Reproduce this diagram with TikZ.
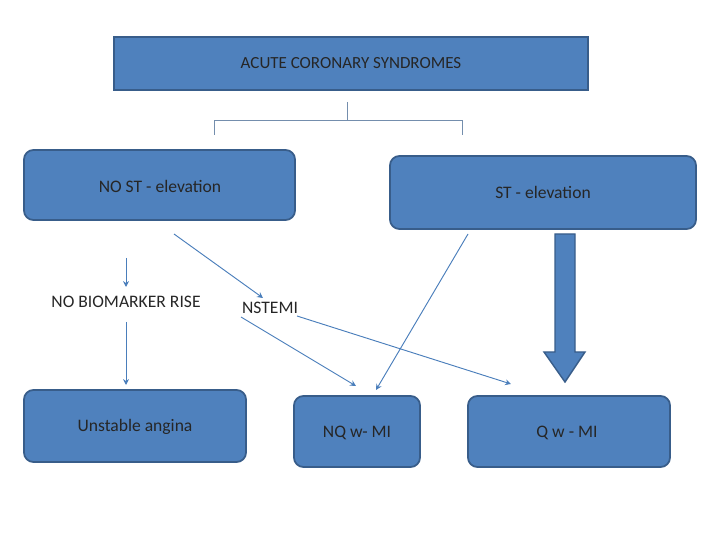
\documentclass[tikz,border=0pt]{standalone}
\usepackage{fontspec}
\setmainfont{Carlito}
\usetikzlibrary{arrows.meta}
\begin{document}
\begin{tikzpicture}[x=0.03cm,y=-0.03cm,
 box/.style={fill=boxblue,draw=boxedge,line width=1.5pt},
 rbox/.style={box,rounded corners=8pt},
 lbl/.style={font=\fontsize{15}{17}\selectfont,text=black!85},
 arr/.style={draw=arrblue,line width=0.8pt,-{Stealth[length=5pt,width=5pt]}},
 thin/.style={draw=boxedge!70,line width=0.6pt}]
\definecolor{boxblue}{HTML}{4F81BD}
\definecolor{boxedge}{HTML}{385D8A}
\definecolor{arrblue}{HTML}{4A7EBB}
\useasboundingbox (0,0) rectangle (720,540);
\draw[box] (114,37) rectangle (588,90);
\node[lbl,font=\fontsize{14.5}{17}\selectfont] (acs) at (351,63) {ACUTE CORONARY SYNDROMES};
\draw[thin] (347,102) -- (347,120);
\draw[thin] (214,135) -- (214,120) -- (462,120) -- (462,135);
\draw[rbox] (24,150) rectangle (295,220);
\node[lbl] (nost) at (160,186) {NO ST - elevation};
\draw[rbox] (390,156) rectangle (696,229);
\node[lbl] (st) at (543,192) {ST - elevation};
\node[lbl] (nbr) at (126,302) {NO BIOMARKER RISE};
\node[lbl] (nstemi) at (270,308) {NSTEMI};
\draw[rbox] (24,390) rectangle (246,462);
\node[lbl] (ua) at (135,427) {Unstable angina};
\draw[rbox] (294,396) rectangle (420,467);
\node[lbl] (nq) at (357,433) {NQ w- MI};
\draw[rbox] (468,396) rectangle (670,467);
\node[lbl] (q) at (567,433) {Q w - MI};
\coordinate (a1) at (126,258); \coordinate (a1e) at (126,287);
\coordinate (a2) at (126,322); \coordinate (a2e) at (126,385);
\coordinate (b1) at (174,234); \coordinate (b1e) at (263,298);
\coordinate (c1) at (241,317); \coordinate (c1e) at (356,386);
\coordinate (d1) at (297,316); \coordinate (d1e) at (511,384);
\coordinate (e1) at (468,234); \coordinate (e1e) at (376,390);
\draw[arr] (a1) -- (a1e);
\draw[arr] (a2) -- (a2e);
\draw[arr] (b1) -- (b1e);
\draw[arr] (c1) -- (c1e);
\draw[arr] (d1) -- (d1e);
\draw[arr] (e1) -- (e1e);
\draw[box,line width=1.2pt] (555,234) -- (575,234) -- (575,352) -- (585,352) -- (565,382) -- (544,352) -- (555,352) -- cycle;
\end{tikzpicture}
\end{document}
